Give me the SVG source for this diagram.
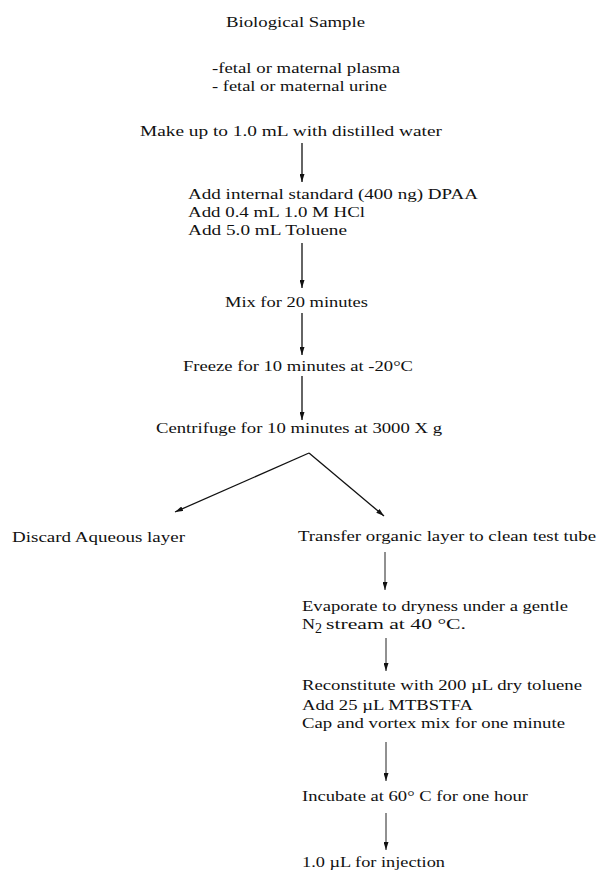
<svg xmlns="http://www.w3.org/2000/svg" width="600" height="871" viewBox="0 0 600 871">
<style>
text{font-family:"Liberation Serif","Times New Roman",serif;font-size:15px;fill:#111}
.c{stroke:#111;stroke-width:1.3;fill:none}
.t{stroke:#222;stroke-width:1;fill:none}
</style>
<defs>
<marker id="ah" viewBox="0 0 10 10" refX="10" refY="5" markerWidth="8" markerHeight="5" markerUnits="userSpaceOnUse" orient="auto" preserveAspectRatio="none"><path d="M0,0 L10,5 L0,10 z" fill="#111"/></marker>
</defs>
<rect width="600" height="871" fill="#fff"/>
<g id="n1"><text x="226" y="27" textLength="139" lengthAdjust="spacingAndGlyphs">Biological Sample</text></g>
<g id="n2"><text x="212" y="73" textLength="188" lengthAdjust="spacingAndGlyphs">-fetal or maternal plasma</text>
<text x="212" y="91" textLength="175" lengthAdjust="spacingAndGlyphs">- fetal or maternal urine</text></g>
<g id="n3"><text x="140" y="136" textLength="302" lengthAdjust="spacingAndGlyphs">Make up to 1.0 mL with distilled water</text></g>
<g id="n4"><text x="188" y="199" textLength="290" lengthAdjust="spacingAndGlyphs">Add internal standard (400 ng) DPAA</text>
<text x="188" y="217" textLength="177" lengthAdjust="spacingAndGlyphs">Add 0.4 mL 1.0 M HCl</text>
<text x="188" y="235" textLength="159" lengthAdjust="spacingAndGlyphs">Add 5.0 mL Toluene</text></g>
<g id="n5"><text x="225" y="307" textLength="143" lengthAdjust="spacingAndGlyphs">Mix for 20 minutes</text></g>
<g id="n6"><text x="183" y="371" textLength="230" lengthAdjust="spacingAndGlyphs">Freeze for 10 minutes at -20°C</text></g>
<g id="n7"><text x="156" y="433" textLength="286" lengthAdjust="spacingAndGlyphs">Centrifuge for 10 minutes at 3000 X g</text></g>
<g id="n8"><text x="12" y="542" textLength="173" lengthAdjust="spacingAndGlyphs">Discard Aqueous layer</text></g>
<g id="n9"><text x="298" y="541" textLength="298" lengthAdjust="spacingAndGlyphs">Transfer organic layer to clean test tube</text></g>
<g id="n10"><text x="302" y="611" textLength="266" lengthAdjust="spacingAndGlyphs">Evaporate to dryness under a gentle</text>
<text x="302" y="629" textLength="13" lengthAdjust="spacingAndGlyphs">N</text>
<text x="315" y="633" font-size="12" textLength="7" lengthAdjust="spacingAndGlyphs">2</text>
<text x="326" y="629" textLength="140" lengthAdjust="spacingAndGlyphs">stream at 40 °C.</text></g>
<g id="n11"><text x="302" y="690" textLength="280" lengthAdjust="spacingAndGlyphs">Reconstitute with 200 µL dry toluene</text>
<text x="302" y="710" textLength="171" lengthAdjust="spacingAndGlyphs">Add 25 µL MTBSTFA</text>
<text x="302" y="728" textLength="263" lengthAdjust="spacingAndGlyphs">Cap and vortex mix for one minute</text></g>
<g id="n12"><text x="302" y="801" textLength="226" lengthAdjust="spacingAndGlyphs">Incubate at 60° C for one hour</text></g>
<g id="n13"><text x="302" y="867" textLength="143" lengthAdjust="spacingAndGlyphs">1.0 µL for injection</text></g>
<g id="connectors">
<line class="c" x1="302" y1="143" x2="302" y2="182" marker-end="url(#ah)"/>
<line class="c" x1="302" y1="243" x2="302" y2="288" marker-end="url(#ah)"/>
<line class="c" x1="302" y1="313" x2="302" y2="355" marker-end="url(#ah)"/>
<line class="c" x1="302" y1="376" x2="302" y2="420" marker-end="url(#ah)"/>
<line class="c" x1="309" y1="453" x2="175" y2="512" marker-end="url(#ah)"/>
<line class="c" x1="309" y1="453" x2="384" y2="516" marker-end="url(#ah)"/>
<line class="t" x1="385" y1="552" x2="385" y2="590" marker-end="url(#ah)"/>
<line class="t" x1="386" y1="638" x2="386" y2="671" marker-end="url(#ah)"/>
<line class="t" x1="386" y1="742" x2="386" y2="781" marker-end="url(#ah)"/>
<line class="t" x1="386" y1="813" x2="386" y2="850" marker-end="url(#ah)"/>
</g>
</svg>
